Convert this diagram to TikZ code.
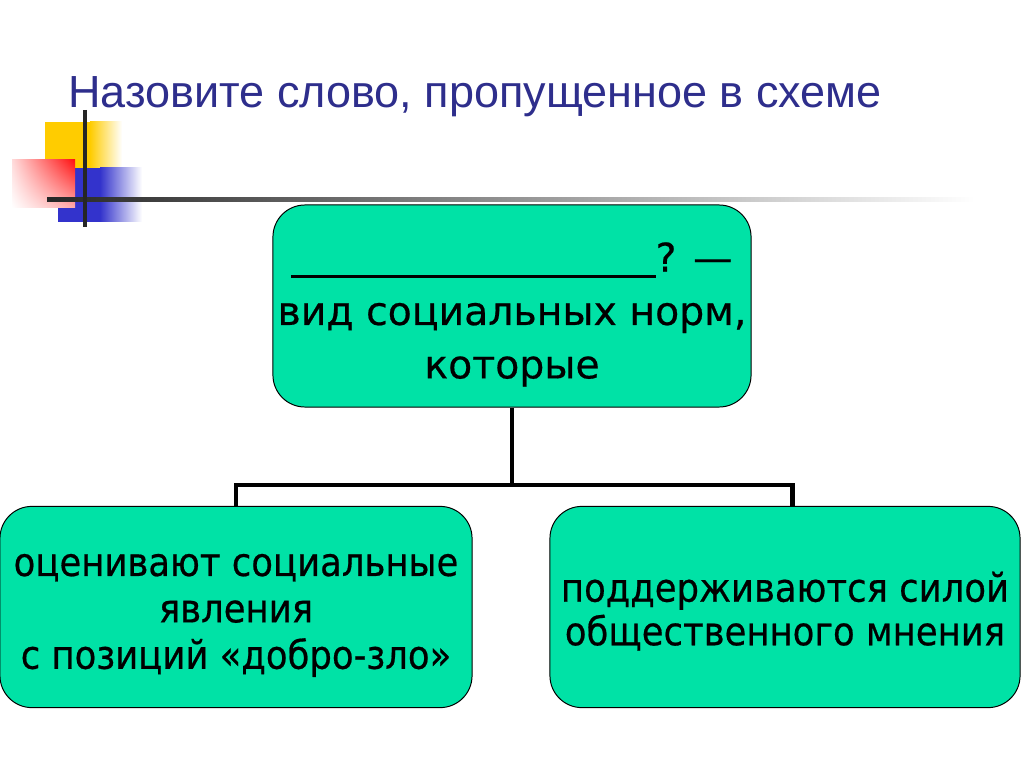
\documentclass[tikz,border=0pt]{standalone}
\usepackage{fontspec}
\usepackage{tikz}
\usetikzlibrary{shadings}
\newfontfamily\titlefont{Liberation Sans}
\newfontfamily\boxfont[FakeBold=0.5]{DejaVu Sans}
\newfontfamily\narrowfont[FakeStretch=0.9, FakeBold=0.5]{DejaVu Sans}
\definecolor{boxgreen}{HTML}{00E2A6}
\definecolor{titleblue}{HTML}{2E2E8C}
\definecolor{decoyellow}{HTML}{FFCC00}
\definecolor{decoblue}{HTML}{3333CC}
\definecolor{decored}{HTML}{FF1010}

\begin{document}
\begin{tikzpicture}[x=0.025cm, y=-0.025cm,
  normbox/.style = {draw, line width=0.7pt, fill=boxgreen, rounded corners=0.8cm},
  normtext/.style = {align=center, inner sep=0pt},
  link/.style = {line width=3.5pt, line join=miter}]
\useasboundingbox (0,0) rectangle (1024,767);
% decoration at the top left
\fill[decoyellow] (45,122) rectangle (90,190);
\shade[left color=decoyellow, right color=white] (90,122) rectangle (122,190);
\fill[decoblue] (58,168) rectangle (100,222);
\shade[left color=decoblue, right color=white] (100,168) rectangle (142,222);
\shade[upper left=decored!15, upper right=decored, lower left=white, lower right=decored!35] (12,160) rectangle (75,208);
\shade[left color=black!85, right color=white] (47,198) rectangle (975,202);
\draw[line width=2.8pt, black!85] (85,110) -- (85,227);
% title
\node[anchor=base west, inner sep=0pt, text=titleblue, font=\titlefont\fontsize{32pt}{38pt}\selectfont] (title) at (68,108) {Назовите слово, пропущенное в схеме};
% boxes
\node[normbox, minimum width=11.95cm, minimum height=5.05cm] (norm) at (512,306) {};
\node[normbox, minimum width=11.8cm, minimum height=5.03cm] (eval) at (236,607) {};
\node[normbox, minimum width=11.75cm, minimum height=5.03cm] (force) at (785,607) {};
% texts
\node[normtext, font=\boxfont\fontsize{28pt}{38pt}\selectfont] (normtext) at ([yshift=-6]norm.center)
  {\rule[-4.5pt]{9.1cm}{2.2pt}? —\\вид социальных норм,\\которые};
\node[normtext, font=\narrowfont\fontsize{28pt}{33pt}\selectfont] (evaltext) at ([yshift=-6]eval.center)
  {оценивают социальные\\явления\\с позиций «добро-зло»};
\node[normtext, font=\narrowfont\fontsize{28pt}{31pt}\selectfont] (forcetext) at ([yshift=-3]force.center)
  {поддерживаются силой\\общественного мнения};
% connectors
\coordinate (bus) at (norm.south |- 0,485);
\draw[link] (norm.south) -- (bus);
\draw[link] (eval.north) |- (bus) -| ([xshift=5]force.north);
\end{tikzpicture}
\end{document}
